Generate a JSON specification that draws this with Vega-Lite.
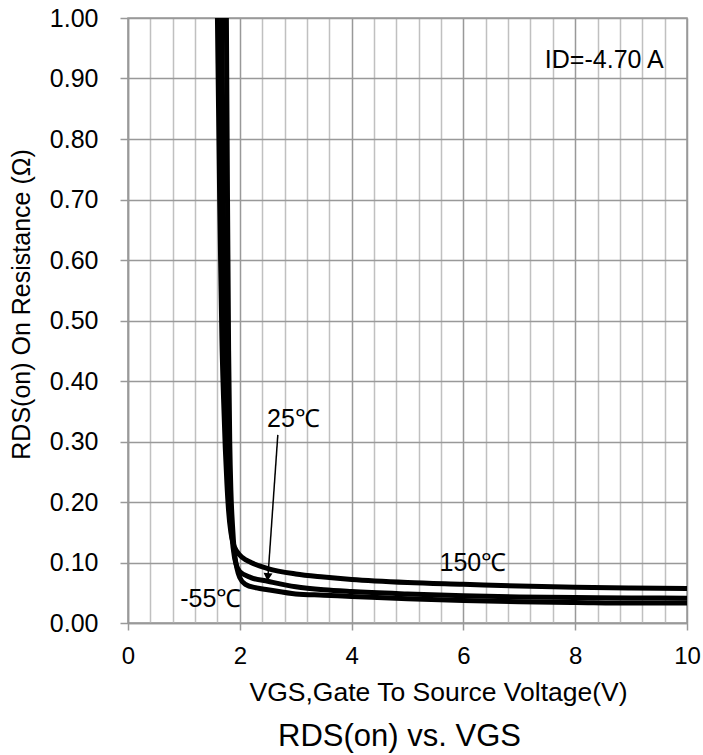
{
  "$schema": "https://vega.github.io/schema/vega-lite/v6.json",
  "width": 559,
  "height": 605,
  "autosize": {"type": "none"},
  "padding": {"left": 128, "top": 18, "right": 16, "bottom": 132},
  "background": "white",
  "config": {
    "font": "Liberation Sans",
    "view": {"stroke": "#999999", "strokeWidth": 1.5}
  },
  "title": {
    "text": "RDS(on) vs. VGS",
    "orient": "bottom",
    "anchor": "middle",
    "frame": "group",
    "fontSize": 31,
    "fontWeight": "normal",
    "color": "black",
    "font": "Liberation Sans",
    "offset": 16,
    "dx": -8
  },
  "datasets": {
    "curves": [
      {"T": "150", "V": 1.60, "R": 1.00},
      {"T": "150", "V": 1.62, "R": 0.85},
      {"T": "150", "V": 1.64, "R": 0.70},
      {"T": "150", "V": 1.66, "R": 0.58},
      {"T": "150", "V": 1.68, "R": 0.47},
      {"T": "150", "V": 1.71, "R": 0.37},
      {"T": "150", "V": 1.74, "R": 0.29},
      {"T": "150", "V": 1.77, "R": 0.23},
      {"T": "150", "V": 1.80, "R": 0.185},
      {"T": "150", "V": 1.84, "R": 0.15},
      {"T": "150", "V": 1.88, "R": 0.132},
      {"T": "150", "V": 1.95, "R": 0.118},
      {"T": "150", "V": 2.05, "R": 0.108},
      {"T": "150", "V": 2.2, "R": 0.100},
      {"T": "150", "V": 2.5, "R": 0.090},
      {"T": "150", "V": 3.0, "R": 0.081},
      {"T": "150", "V": 3.5, "R": 0.076},
      {"T": "150", "V": 4.0, "R": 0.072},
      {"T": "150", "V": 5.0, "R": 0.067},
      {"T": "150", "V": 6.0, "R": 0.064},
      {"T": "150", "V": 7.0, "R": 0.061},
      {"T": "150", "V": 8.0, "R": 0.059},
      {"T": "150", "V": 9.0, "R": 0.058},
      {"T": "150", "V": 10.0, "R": 0.057},
      {"T": "25", "V": 1.68, "R": 1.00},
      {"T": "25", "V": 1.70, "R": 0.75},
      {"T": "25", "V": 1.72, "R": 0.55},
      {"T": "25", "V": 1.75, "R": 0.40},
      {"T": "25", "V": 1.78, "R": 0.30},
      {"T": "25", "V": 1.81, "R": 0.22},
      {"T": "25", "V": 1.84, "R": 0.165},
      {"T": "25", "V": 1.88, "R": 0.125},
      {"T": "25", "V": 1.93, "R": 0.098},
      {"T": "25", "V": 2.0, "R": 0.085},
      {"T": "25", "V": 2.2, "R": 0.075},
      {"T": "25", "V": 2.5, "R": 0.069},
      {"T": "25", "V": 3.0, "R": 0.060},
      {"T": "25", "V": 3.5, "R": 0.055},
      {"T": "25", "V": 4.0, "R": 0.052},
      {"T": "25", "V": 5.0, "R": 0.048},
      {"T": "25", "V": 6.0, "R": 0.045},
      {"T": "25", "V": 7.0, "R": 0.043},
      {"T": "25", "V": 8.0, "R": 0.042},
      {"T": "25", "V": 9.0, "R": 0.0415},
      {"T": "25", "V": 10.0, "R": 0.041},
      {"T": "-55", "V": 1.76, "R": 1.00},
      {"T": "-55", "V": 1.78, "R": 0.70},
      {"T": "-55", "V": 1.80, "R": 0.45},
      {"T": "-55", "V": 1.82, "R": 0.30},
      {"T": "-55", "V": 1.84, "R": 0.22},
      {"T": "-55", "V": 1.87, "R": 0.16},
      {"T": "-55", "V": 1.90, "R": 0.12},
      {"T": "-55", "V": 1.95, "R": 0.09},
      {"T": "-55", "V": 2.0, "R": 0.075},
      {"T": "-55", "V": 2.1, "R": 0.064},
      {"T": "-55", "V": 2.3, "R": 0.058},
      {"T": "-55", "V": 2.5, "R": 0.055},
      {"T": "-55", "V": 3.0, "R": 0.048},
      {"T": "-55", "V": 3.5, "R": 0.046},
      {"T": "-55", "V": 4.0, "R": 0.044},
      {"T": "-55", "V": 5.0, "R": 0.040},
      {"T": "-55", "V": 6.0, "R": 0.037},
      {"T": "-55", "V": 7.0, "R": 0.035},
      {"T": "-55", "V": 8.0, "R": 0.034},
      {"T": "-55", "V": 9.0, "R": 0.033},
      {"T": "-55", "V": 10.0, "R": 0.033}
    ],
    "arrow": [
      {"V": 2.68, "R": 0.311},
      {"V": 2.505, "R": 0.078}
    ],
    "arrowhead": [
      {"V": 2.50, "R": 0.076}
    ],
    "labels": [
      {"V": 8.52, "R": 0.93, "text": "ID=-4.70 A"},
      {"V": 2.96, "R": 0.338, "text": "25℃"},
      {"V": 6.17, "R": 0.099, "text": "150℃"},
      {"V": 1.48, "R": 0.039, "text": "-55℃"}
    ]
  },
  "encoding": {
    "x": {
      "field": "V",
      "type": "quantitative",
      "scale": {"domain": [0, 10], "nice": false, "zero": false},
      "axis": {
        "values": [0, 0.4, 0.8, 1.2, 1.6, 2, 2.4, 2.8, 3.2, 3.6, 4, 4.4, 4.8, 5.2, 5.6, 6, 6.4, 6.8, 7.2, 7.6, 8, 8.4, 8.8, 9.2, 9.6, 10],
        "grid": true,
        "gridColor": {"condition": {"test": "datum.value % 2 === 0", "value": "#999999"}, "value": "#c0c0c0"},
        "gridWidth": 1.5,
        "tickSize": 7,
        "tickWidth": 1.5,
        "tickColor": "#999999",
        "tickOpacity": {"condition": {"test": "datum.value % 2 === 0", "value": 1}, "value": 0},
        "labelExpr": "datum.value % 2 === 0 ? format(datum.value, 'd') : ''",
        "labelOverlap": false,
        "labelFlush": false,
        "labelBound": false,
        "labelFontSize": 24,
        "labelColor": "black",
        "labelPadding": 14,
        "domainColor": "#999999",
        "domainWidth": 1.5,
        "title": "VGS,Gate To Source Voltage(V)",
        "titleFontSize": 26.5,
        "titleFontWeight": "normal",
        "titleColor": "black",
        "titleX": 310,
        "titleY": 69,
        "titleBaseline": "middle",
        "titleAlign": "center"
      }
    },
    "y": {
      "field": "R",
      "type": "quantitative",
      "scale": {"domain": [0, 1], "nice": false},
      "axis": {
        "values": [0, 0.1, 0.2, 0.3, 0.4, 0.5, 0.6, 0.7, 0.8, 0.9, 1],
        "format": ".2f",
        "grid": true,
        "gridColor": "#999999",
        "gridWidth": 1.5,
        "tickSize": 8,
        "tickWidth": 1.5,
        "tickColor": "#999999",
        "domainColor": "#999999",
        "domainWidth": 1.5,
        "labelFontSize": 25,
        "labelColor": "black",
        "labelPadding": 22,
        "title": "RDS(on) On Resistance (Ω)",
        "titleFontSize": 25,
        "titleFontWeight": "normal",
        "titleColor": "black",
        "titleX": -107,
        "titleY": 286,
        "titleBaseline": "middle",
        "titleAlign": "center",
        "titleAngle": -90
      }
    }
  },
  "layer": [
    {
      "data": {"name": "curves"},
      "mark": {"type": "line", "color": "black", "strokeWidth": 5, "interpolate": "monotone"},
      "encoding": {"detail": {"field": "T", "type": "nominal"}}
    },
    {
      "data": {"name": "arrow"},
      "mark": {"type": "line", "color": "black", "strokeWidth": 1.5},
      "encoding": {}
    },
    {
      "data": {"name": "arrowhead"},
      "mark": {"type": "point", "shape": "triangle-down", "filled": true, "color": "black", "size": 80, "angle": 4, "opacity": 1},
      "encoding": {}
    },
    {
      "data": {"name": "labels"},
      "mark": {"type": "text", "fontSize": 25, "color": "black", "align": "center", "baseline": "middle"},
      "encoding": {"text": {"field": "text", "type": "nominal"}}
    }
  ]
}
